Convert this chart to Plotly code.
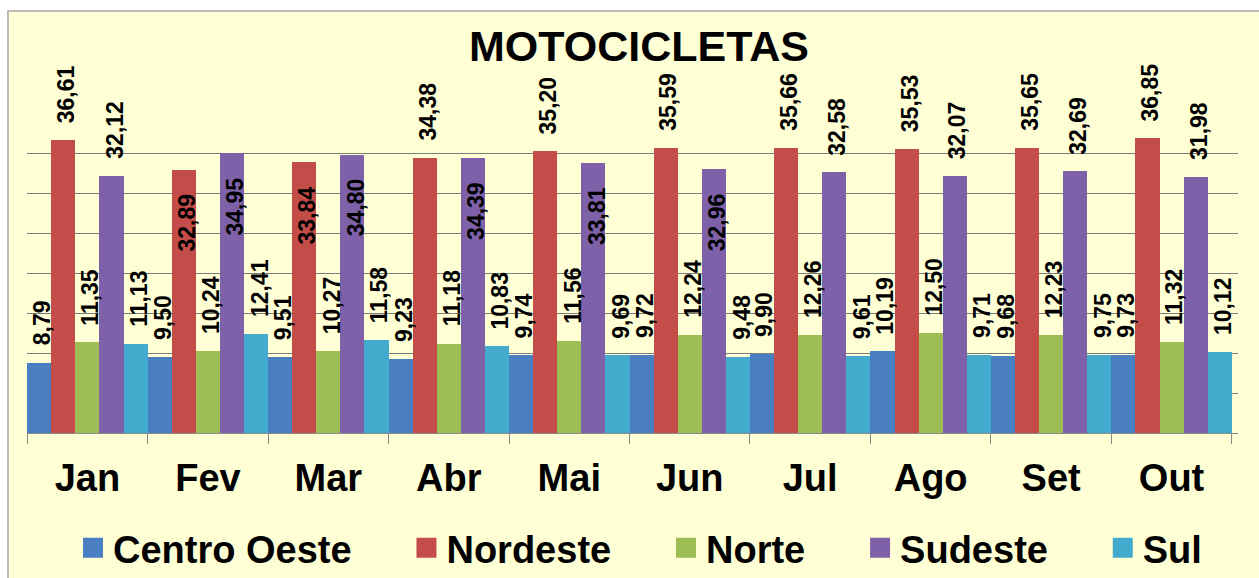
import plotly.graph_objects as go

# Monthly share (%) of motorcycles by region
months = ["Jan", "Fev", "Mar", "Abr", "Mai", "Jun", "Jul", "Ago", "Set", "Out"]

centro_oeste = [8.79, 9.50, 9.51, 9.23, 9.74, 9.72, 9.90, 10.19, 9.68, 9.73]
nordeste = [36.61, 32.89, 33.84, 34.38, 35.20, 35.59, 35.66, 35.53, 35.65, 36.85]
norte = [11.35, 10.24, 10.27, 11.18, 11.56, 12.24, 12.26, 12.50, 12.23, 11.32]
sudeste = [32.12, 34.95, 34.80, 34.39, 33.81, 32.96, 32.58, 32.07, 32.69, 31.98]
sul = [11.13, 12.41, 11.58, 10.83, 9.69, 9.48, 9.61, 9.71, 9.75, 10.12]

series_names = ["Centro Oeste", "Nordeste", "Norte", "Sudeste", "Sul"]
series_values = [centro_oeste, nordeste, norte, sudeste, sul]
series_colors = ["#4A7EC2", "#C44D4A", "#9DBE55", "#7E61A8", "#43ABCD"]

# labels drawn inside the top of the bar instead of above it
inside_labels = {
    ("Nordeste", "Fev"), ("Nordeste", "Mar"),
    ("Sudeste", "Fev"), ("Sudeste", "Mar"), ("Sudeste", "Abr"),
    ("Sudeste", "Mai"), ("Sudeste", "Jun"),
}

W, H = 1259, 578
ML, MR, MT, MB = 27, 21, 113, 145
plot_w = W - ML - MR
plot_h = H - MT - MB
bar_px = plot_w / len(months) / len(series_names)

FONT = "Liberation Sans, Arial, sans-serif"
PAD = "\u00a0" * 4 + "\u2009"

fig = go.Figure()
for name, vals, col in zip(series_names, series_values, series_colors):
    fig.add_trace(go.Bar(
        x=months, y=vals, name=name, showlegend=False,
        marker=dict(color=col, line=dict(width=0)),
        hoverinfo="x+y",
    ))

# legend entries with larger square swatches
for k, (name, col) in enumerate(zip(series_names, series_colors)):
    fig.add_trace(go.Scatter(
        x=[None], y=[None], mode="markers",
        name=name if k == len(series_names) - 1 else name + PAD,
        marker=dict(symbol="square", size=16, color=col,
                    line=dict(color=col, width=4)),
        hoverinfo="skip",
    ))

annotations = []
for k, (name, vals) in enumerate(zip(series_names, series_values)):
    for m, v in zip(months, vals):
        label = f"{v:.2f}".replace(".", ",")
        inside = (name, m) in inside_labels
        annotations.append(dict(
            x=m, y=v, xref="x", yref="y",
            text=label, showarrow=False, textangle=-90,
            xshift=(k - 2) * bar_px + 3,
            yshift=-22 if inside else 15,
            yanchor="top" if inside else "bottom",
            xanchor="center",
            font=dict(family=FONT, size=23, color="#000000", weight="bold"),
        ))

# chart area frame (only the left and top edges fall inside the page)
def px_to_paper_x(p):
    return (p - ML) / plot_w

def px_to_paper_y(p):
    return (H - MB - p) / plot_h

shapes = [dict(
    type="rect", xref="paper", yref="paper", layer="below",
    x0=px_to_paper_x(8), x1=px_to_paper_x(W + 80),
    y0=px_to_paper_y(H + 80), y1=px_to_paper_y(11),
    fillcolor="#FFFFD6", line=dict(color="#A8A8A8", width=1.5),
)]

fig.update_layout(
    width=W, height=H,
    margin=dict(l=ML, r=MR, t=MT, b=MB, pad=0, autoexpand=False),
    paper_bgcolor="#FFFFFF",
    plot_bgcolor="rgba(0,0,0,0)",
    barmode="group", bargap=0, bargroupgap=0,
    title=dict(
        text="MOTOCICLETAS", x=639 / W, xanchor="center",
        y=1 - 46 / H, yanchor="middle", yref="container",
        font=dict(family=FONT, size=43, color="#000000", weight="bold"),
    ),
    showlegend=True,
    legend=dict(
        orientation="h", x=px_to_paper_x(640), xanchor="center",
        y=px_to_paper_y(548), yanchor="middle",
        font=dict(family=FONT, size=38, color="#000000", weight="bold"),
        bgcolor="rgba(0,0,0,0)", traceorder="normal",
    ),
    xaxis=dict(
        type="category", tickson="boundaries", ticks="outside",
        ticklen=10, tickcolor="#8A8A8A", tickwidth=1,
        showline=True, linecolor="#8A8A8A", linewidth=1,
        showgrid=False,
        tickfont=dict(family=FONT, size=38, color="#000000", weight="bold"),
        ticklabelstandoff=11,
    ),
    yaxis=dict(
        range=[0, 40], dtick=5, showticklabels=False, ticks="",
        showgrid=True, gridcolor="#7C7C7C", gridwidth=1,
        zeroline=False, showline=False,
    ),
    annotations=annotations,
    shapes=shapes,
)

fig.write_html("out.html")
